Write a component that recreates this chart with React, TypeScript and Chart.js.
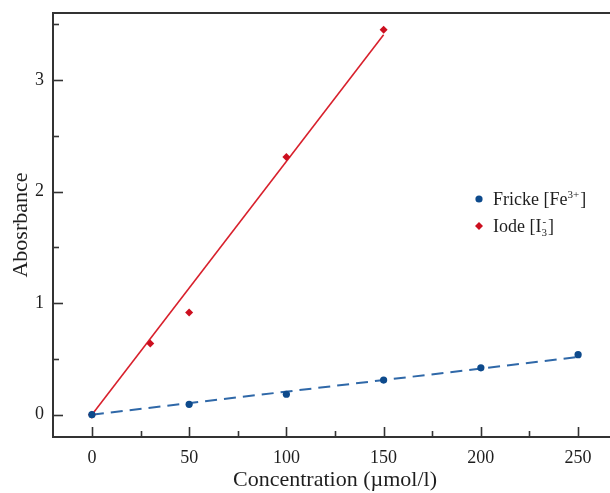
import React, { useEffect, useRef } from "react";
import { Chart, registerables } from "chart.js";

Chart.register(...registerables);

// ---- data ----
const frickeX = [0, 50, 100, 150, 200, 250];
const frickeY = [0, 0.093, 0.183, 0.31, 0.42, 0.538];
const iodeX = [0, 30, 50, 100, 150];
const iodeY = [0, 0.637, 0.916, 2.31, 3.45];
const frickeFitX = [0, 250];
const frickeFitY = [0, 0.517];
const iodeFitX = [0, 150];
const iodeFitY = [0, 3.405];
const xTicks = [0, 50, 100, 150, 200, 250];
const yTicks = [0, 1, 2, 3];
const xMinorTicks = [25, 75, 125, 175, 225];
const yMinorTicks = [0.5, 1.5, 2.5, 3.5];
const xTitle = "Concentration (µmol/l)";
const yTitle = "Abosrbance";
const legendRows = [
  { base: "Fricke [Fe", sup: "3+", sub: "", close: "]" },
  { base: "Iode [I", sup: "-", sub: "3", close: "]" },
];

const FONT = '"Liberation Serif", "Times New Roman", serif';
const BLUE = "#0d4a8c";
const BLUE_LINE = "#2f68a8";
const RED = "#cc0f1f";
const RED_LINE = "#d8202c";
const AXIS = "#333333";
const TEXT = "#1e1e1e";

const pts = (xs: number[], ys: number[]) => xs.map((x, i) => ({ x, y: ys[i] }));

const framePlugin = {
  id: "frameTicks",
  afterDatasetsDraw(chart: any) {
    const { ctx, chartArea } = chart;
    const xs = chart.scales.x;
    const ys = chart.scales.y;
    const { left, right, top, bottom } = chartArea;
    ctx.save();
    ctx.strokeStyle = AXIS;
    ctx.lineWidth = 1.6;
    xTicks.forEach((v) => {
      const px = Math.round(xs.getPixelForValue(v)) + 0.5;
      ctx.beginPath();
      ctx.moveTo(px, bottom);
      ctx.lineTo(px, bottom - 10);
      ctx.stroke();
    });
    xMinorTicks.forEach((v) => {
      const px = Math.round(xs.getPixelForValue(v)) + 0.5;
      ctx.beginPath();
      ctx.moveTo(px, bottom);
      ctx.lineTo(px, bottom - 6);
      ctx.stroke();
    });
    yTicks.forEach((v) => {
      const py = Math.round(ys.getPixelForValue(v)) + 0.5;
      ctx.beginPath();
      ctx.moveTo(left, py);
      ctx.lineTo(left + 10, py);
      ctx.stroke();
    });
    yMinorTicks.forEach((v) => {
      const py = Math.round(ys.getPixelForValue(v)) + 0.5;
      ctx.beginPath();
      ctx.moveTo(left, py);
      ctx.lineTo(left + 6, py);
      ctx.stroke();
    });
    ctx.lineWidth = 2;
    ctx.strokeRect(left, top, right - left, bottom - top);
    ctx.restore();
  },
  afterDraw(chart: any) {
    const { ctx } = chart;
    const ds = chart.data.datasets;
    const lx = 479;
    const tx = 493;
    const rows = [
      { y: 205, color: ds[0].backgroundColor, style: "circle" },
      { y: 232, color: ds[1].backgroundColor, style: "diamond" },
    ];
    ctx.save();
    rows.forEach((r, i) => {
      const cy = r.y - 6;
      ctx.fillStyle = r.color;
      ctx.beginPath();
      if (r.style === "circle") {
        ctx.arc(lx, cy, 3.6, 0, Math.PI * 2);
      } else {
        const s = 4;
        ctx.moveTo(lx, cy - s);
        ctx.lineTo(lx + s, cy);
        ctx.lineTo(lx, cy + s);
        ctx.lineTo(lx - s, cy);
        ctx.closePath();
      }
      ctx.fill();
      const lr = legendRows[i];
      ctx.fillStyle = TEXT;
      ctx.textBaseline = "alphabetic";
      ctx.textAlign = "left";
      ctx.font = `18px ${FONT}`;
      ctx.fillText(lr.base, tx, r.y);
      let x = tx + ctx.measureText(lr.base).width;
      ctx.font = `11px ${FONT}`;
      let w = 0;
      if (lr.sub) {
        ctx.fillText(lr.sub, x, r.y + 4);
        w = Math.max(w, ctx.measureText(lr.sub).width);
      }
      if (lr.sup) {
        ctx.fillText(lr.sup, x + (lr.sub ? 1 : 0), r.y - 7);
        w = Math.max(w, ctx.measureText(lr.sup).width + (lr.sub ? 1 : 0));
      }
      x += w + 1;
      ctx.font = `18px ${FONT}`;
      ctx.fillText(lr.close, x, r.y);
    });
    ctx.restore();
  },
};

export default function App() {
  const ref = useRef<HTMLCanvasElement>(null);
  useEffect(() => {
    if (!ref.current) return;
    const chart = new Chart(ref.current, {
      type: "scatter",
      data: {
        datasets: [
          {
            label: "Fricke",
            data: pts(frickeX, frickeY),
            backgroundColor: BLUE,
            borderColor: BLUE,
            pointStyle: "circle",
            pointRadius: 3.6,
            borderWidth: 0,
            showLine: false,
          },
          {
            label: "Iode",
            data: pts(iodeX, iodeY),
            backgroundColor: RED,
            borderColor: RED,
            pointStyle: "rectRot",
            pointRadius: 4,
            borderWidth: 0,
            showLine: false,
          },
          {
            label: "Fricke fit",
            data: pts(frickeFitX, frickeFitY),
            showLine: true,
            borderColor: BLUE_LINE,
            backgroundColor: BLUE_LINE,
            borderWidth: 2,
            borderDash: [12, 7],
            pointRadius: 0,
          },
          {
            label: "Iode fit",
            data: pts(iodeFitX, iodeFitY),
            showLine: true,
            borderColor: RED_LINE,
            backgroundColor: RED_LINE,
            borderWidth: 1.6,
            pointRadius: 0,
          },
        ],
      },
      options: {
        responsive: false,
        devicePixelRatio: 1,
        animation: false,
        layout: { padding: { top: 13, right: 23, left: 0, bottom: 0 } },
        plugins: { legend: { display: false }, tooltip: { enabled: false } },
        scales: {
          x: {
            type: "linear",
            min: -20,
            max: 270,
            afterBuildTicks: (s: any) => {
              s.ticks = xTicks.map((v) => ({ value: v }));
            },
            afterFit: (s: any) => {
              s.height = 56;
              s.paddingLeft = 0;
              s.paddingRight = 0;
            },
            grid: { display: false, drawTicks: false },
            border: { display: false },
            ticks: {
              font: { family: FONT, size: 18 },
              color: TEXT,
              padding: 10,
              maxRotation: 0,
              autoSkip: false,
            },
            title: {
              display: true,
              text: xTitle,
              font: { family: FONT, size: 22 },
              color: TEXT,
              padding: { top: 0, bottom: 0 },
            },
          },
          y: {
            type: "linear",
            min: -0.2,
            max: 3.6,
            afterBuildTicks: (s: any) => {
              s.ticks = yTicks.map((v) => ({ value: v }));
            },
            afterFit: (s: any) => {
              s.width = 53;
              s.paddingTop = 0;
              s.paddingBottom = 0;
            },
            grid: { display: false, drawTicks: false },
            border: { display: false },
            ticks: {
              font: { family: FONT, size: 18 },
              color: TEXT,
              padding: 9,
              autoSkip: false,
            },
            title: {
              display: true,
              text: yTitle,
              font: { family: FONT, size: 22 },
              color: TEXT,
              padding: { top: 8, bottom: 0 },
            },
          },
        },
      },
      plugins: [framePlugin],
    });
    return () => chart.destroy();
  }, []);
  return (
    <div
      style={{
        position: "fixed",
        left: 0,
        top: 0,
        width: 610,
        height: 493,
        overflow: "hidden",
        background: "#fff",
      }}
    >
      <canvas
        ref={ref}
        width={640}
        height={493}
        style={{ display: "block", width: 640, height: 493 }}
      />
    </div>
  );
}
